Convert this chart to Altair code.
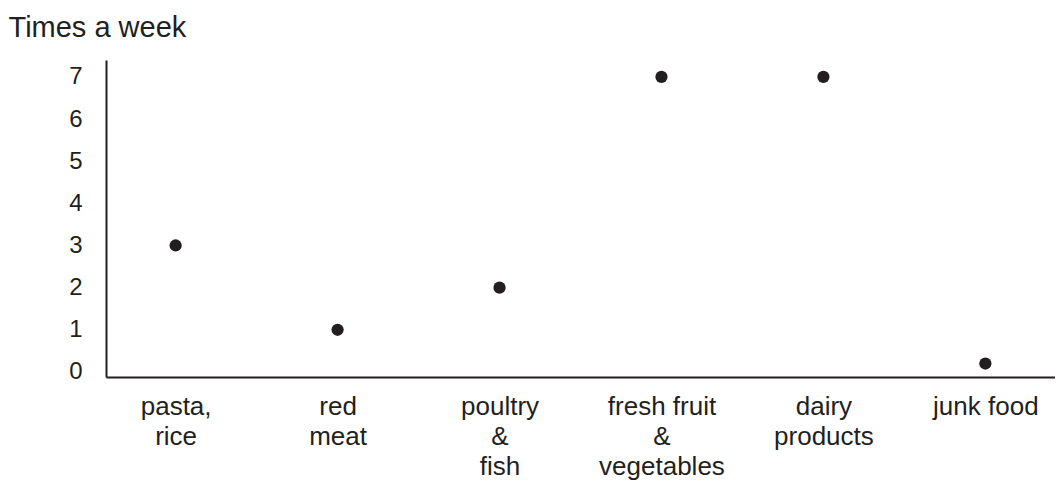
import altair as alt
import pandas as pd

categories = ["pasta,|rice", "red|meat", "poultry|&|fish", "fresh fruit|&|vegetables", "dairy|products", "junk food"]
times = [3, 1, 2, 7, 7, 0.2]
y_ticks = [0, 1, 2, 3, 4, 5, 6, 7]

df = pd.DataFrame({"food": categories, "times": times})

INK = "#231f20"
FONT = "Liberation Sans"

chart = alt.Chart(df).mark_circle(size=150, color=INK, opacity=1).encode(
    x=alt.X(
        "food:N",
        sort=categories,
        scale=alt.Scale(type="point", padding=0.43),
        axis=alt.Axis(
            title=None,
            labelExpr="split(datum.label, '|')",
            labelAngle=0,
            ticks=False,
            labelPadding=16,
            labelFontSize=26,
            labelLineHeight=30,
            labelBaseline="top",
            labelOverlap=False,
            labelFont=FONT,
            labelColor=INK,
            domainColor=INK,
            domainWidth=2,
            grid=False,
        ),
    ),
    y=alt.Y(
        "times:Q",
        scale=alt.Scale(domain=[-0.12, 7.4], nice=False, zero=False),
        axis=alt.Axis(
            title="Times a week",
            titleAngle=0,
            titleX=-98,
            titleY=-47,
            titleAlign="left",
            titleBaseline="top",
            titleFont=FONT,
            titleFontSize=29,
            titleFontWeight="normal",
            titleColor=INK,
            values=y_ticks,
            ticks=False,
            labelPadding=24,
            labelFontSize=24,
            labelFont=FONT,
            labelColor=INK,
            domainColor=INK,
            domainWidth=2,
            grid=False,
        ),
    ),
).properties(
    width=949,
    height=317,
    padding={"left": 0, "top": 5, "right": 0, "bottom": 5},
).configure_view(stroke=None)

chart.save("out.html", embed_options={"renderer": "svg", "actions": False})
